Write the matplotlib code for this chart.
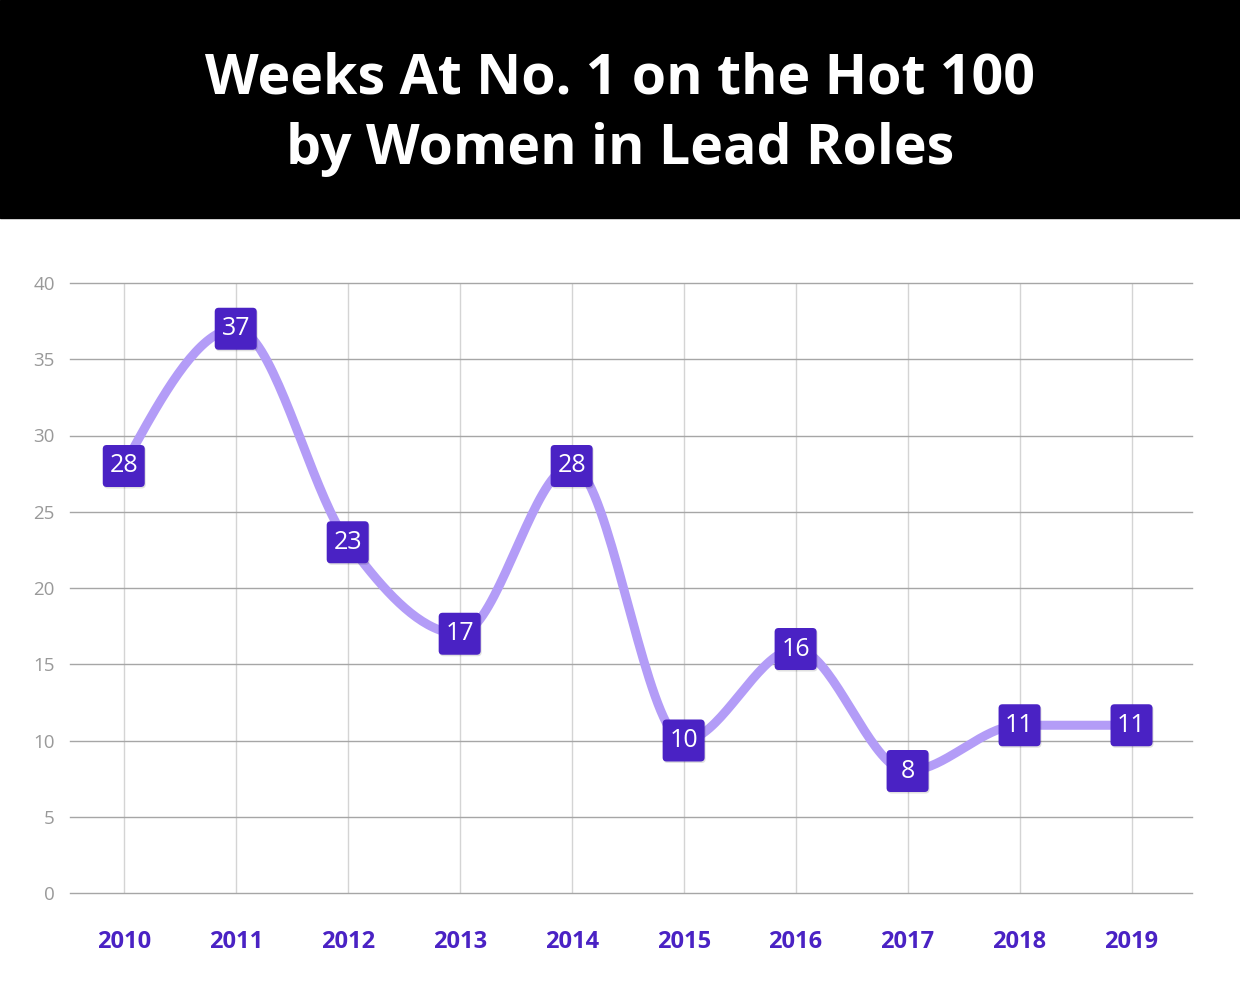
import matplotlib
matplotlib.use('Agg')
import numpy as np
from matplotlib import pyplot as plt
from matplotlib.patches import FancyBboxPatch, Rectangle
from matplotlib.transforms import ScaledTranslation

# Данные
years = ['2010', '2011', '2012', '2013', '2014', '2015', '2016', '2017', '2018', '2019']
weeks = [28, 37, 23, 17, 28, 10, 16, 8, 11, 11]

title = 'Weeks At No. 1 on the Hot 100\nby Women in Lead Roles'

line_color = '#b39cf7'
box_color = '#4a22c4'
tick_color = '#4a22c4'

plt.rcParams['font.family'] = ['Open Sans', 'DejaVu Sans']


def monotone_curve(x, y, n=40):
    # монотонная кубическая интерполяция (как d3.curveMonotoneX)
    x = np.asarray(x, float)
    y = np.asarray(y, float)
    h = np.diff(x)
    s = np.diff(y) / h
    t = np.zeros(len(x))
    for i in range(1, len(x) - 1):
        p = (s[i - 1] * h[i] + s[i] * h[i - 1]) / (h[i - 1] + h[i])
        t[i] = (np.sign(s[i - 1]) + np.sign(s[i])) * min(abs(s[i - 1]), abs(s[i]), 0.5 * abs(p))
    t[0] = (3 * s[0] - t[1]) / 2
    t[-1] = (3 * s[-1] - t[-2]) / 2
    xs, ys = [], []
    for i in range(len(x) - 1):
        u = np.linspace(0, 1, n)
        h00 = 2 * u**3 - 3 * u**2 + 1
        h10 = u**3 - 2 * u**2 + u
        h01 = -2 * u**3 + 3 * u**2
        h11 = u**3 - u**2
        xs.append(x[i] + u * h[i])
        ys.append(h00 * y[i] + h10 * h[i] * t[i] + h01 * y[i + 1] + h11 * h[i] * t[i + 1])
    return np.concatenate(xs), np.concatenate(ys)


fig = plt.figure(figsize=(12.4, 9.9), dpi=100)
fig.patches.append(Rectangle((0, 1 - 218 / 990), 1, 218 / 990, transform=fig.transFigure,
                             color='black', zorder=0))
fig.text(0.5, 1 - 114 / 990, title, ha='center', va='center', color='white',
         fontsize=40, fontweight='bold', linespacing=1.37)

ax = fig.add_axes([70 / 1240, 97 / 990, 1122 / 1240, 610 / 990])
xpos = np.arange(len(years))
ax.set_xlim(-0.48, 9.54)
ax.set_ylim(0, 40)

ax.set_yticks(range(0, 41, 5))
for yv in range(0, 41, 5):
    ax.axhline(yv, color='#a6a6a6', lw=1, zorder=1, clip_on=False)
for xv in xpos:
    ax.axvline(xv, color='#d4d4d4', lw=1, zorder=0.5)

for sp in ax.spines.values():
    sp.set_visible(False)

ax.set_xticks(xpos)
ax.set_xticklabels(years, color=tick_color, fontsize=17, fontweight='bold')
ax.tick_params(axis='x', length=0, pad=27)
ax.tick_params(axis='y', length=0, pad=11, labelsize=13.5, labelcolor='#999999')

cx, cy = monotone_curve(xpos, weeks)
ax.plot(cx, cy, color=line_color, lw=6.5, solid_capstyle='round', zorder=2)

# подписи значений в квадратах
size = 0.42
for xv, yv in zip(xpos, weeks):
    tr = fig.dpi_scale_trans + ScaledTranslation(xv, yv, ax.transData)
    shadow = FancyBboxPatch((-size / 2 + 0.01, -size / 2 - 0.015), size, size,
                            boxstyle='round,pad=0,rounding_size=0.04',
                            transform=tr, color='#000000', alpha=0.12, lw=0, zorder=3)
    box = FancyBboxPatch((-size / 2, -size / 2), size, size,
                         boxstyle='round,pad=0,rounding_size=0.04',
                         transform=tr, color=box_color, lw=0, zorder=4)
    ax.add_patch(shadow)
    ax.add_patch(box)
    ax.text(xv, yv, str(yv), ha='center', va='center', color='white',
            fontsize=18, zorder=5)

fig.savefig('out.png', dpi=100)
